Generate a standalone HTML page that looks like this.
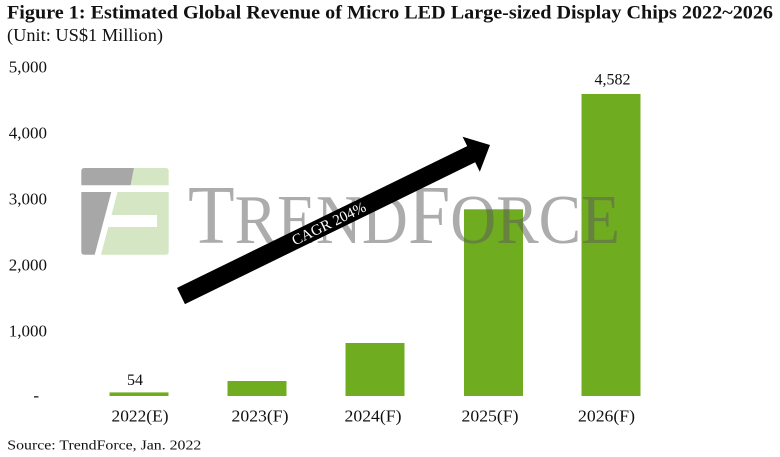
<!DOCTYPE html>
<html>
<head>
<meta charset="utf-8">
<style>
  html, body { margin:0; padding:0; background:#ffffff; }
  svg { display:block; }
  text { font-family: "Liberation Serif", "DejaVu Serif", serif; }
</style>
</head>
<body>
<svg width="780" height="457" viewBox="0 0 780 457" xmlns="http://www.w3.org/2000/svg">
  <rect x="0" y="0" width="780" height="457" fill="#ffffff"/>

  <!-- Title -->
  <text x="7" y="18.5" font-size="19" font-weight="bold" fill="#111" textLength="766" lengthAdjust="spacingAndGlyphs">Figure 1: Estimated Global Revenue of Micro LED Large-sized Display Chips 2022~2026</text>
  <text x="7" y="41" font-size="17.5" fill="#111" textLength="156" lengthAdjust="spacingAndGlyphs">(Unit: US$1 Million)</text>

  <!-- Y axis labels -->
  <g font-size="17" fill="#111" text-anchor="end">
    <text x="47" y="72.5">5,000</text>
    <text x="47" y="138.5">4,000</text>
    <text x="47" y="204.5">3,000</text>
    <text x="47" y="270.5">2,000</text>
    <text x="47" y="336.5">1,000</text>
    <text x="39" y="401">-</text>
  </g>

  <!-- Logo -->
  <path d="M84.3,168 L134,168 L130.7,185.3 L81.3,185.3 L81.3,171 Q81.3,168 84.3,168 Z" fill="#a7a7a7"/>
  <path d="M134,168 L165.7,168 Q168.7,168 168.7,171 L168.7,185.3 L130.7,185.3 Z" fill="#d4e6c3"/>
  <path d="M81.3,192 L111.3,192 L94.7,254.7 L84.3,254.7 Q81.3,254.7 81.3,251.7 Z" fill="#a7a7a7"/>
  <path d="M117.5,192 L168.7,192 L168.7,251.7 Q168.7,254.7 165.7,254.7 L101,254.7 Z" fill="#d4e6c3"/>
  <rect x="108" y="215" width="49" height="12" fill="#ffffff"/>

  <!-- Bars -->
  <g fill="#70ac20">
    <rect x="109.5" y="392.4" width="59" height="3.6"/>
    <rect x="227.5" y="381" width="59" height="15"/>
    <rect x="345.5" y="343" width="59" height="53"/>
    <rect x="464" y="209.3" width="59" height="186.7"/>
    <rect x="581.5" y="94" width="59" height="302"/>
  </g>

  <!-- Watermark text -->
  <text x="188" y="243" fill="#5a5a5a" fill-opacity="0.5" textLength="432" lengthAdjust="spacingAndGlyphs"><tspan font-size="84">T</tspan><tspan font-size="70">REND</tspan><tspan font-size="84">F</tspan><tspan font-size="70">ORCE</tspan></text>

  <!-- Arrow -->
  <polygon points="177.05,287.9 467.2,146.1 462.6,136.7 490,145 479.8,171.7 475.2,162.3 184.95,304.1" fill="#000000"/>
  <text x="0" y="0" font-size="15" fill="#ffffff" text-anchor="middle" transform="translate(331,228) rotate(-26.05)">CAGR 204%</text>

  <!-- Value labels -->
  <text x="135" y="385" font-size="16" fill="#111" text-anchor="middle">54</text>
  <text x="612.5" y="84.3" font-size="16" fill="#111" text-anchor="middle">4,582</text>

  <!-- X labels -->
  <g font-size="17" fill="#111" text-anchor="middle">
    <text x="140" y="421.5" textLength="57" lengthAdjust="spacingAndGlyphs">2022(E)</text>
    <text x="260" y="421.5" textLength="57" lengthAdjust="spacingAndGlyphs">2023(F)</text>
    <text x="373" y="421.5" textLength="57" lengthAdjust="spacingAndGlyphs">2024(F)</text>
    <text x="490" y="421.5" textLength="57" lengthAdjust="spacingAndGlyphs">2025(F)</text>
    <text x="606.5" y="421.5" textLength="57" lengthAdjust="spacingAndGlyphs">2026(F)</text>
  </g>

  <!-- Source -->
  <text x="7.3" y="449.3" font-size="14" fill="#111" textLength="194" lengthAdjust="spacingAndGlyphs">Source: TrendForce, Jan. 2022</text>
</svg>
</body>
</html>
